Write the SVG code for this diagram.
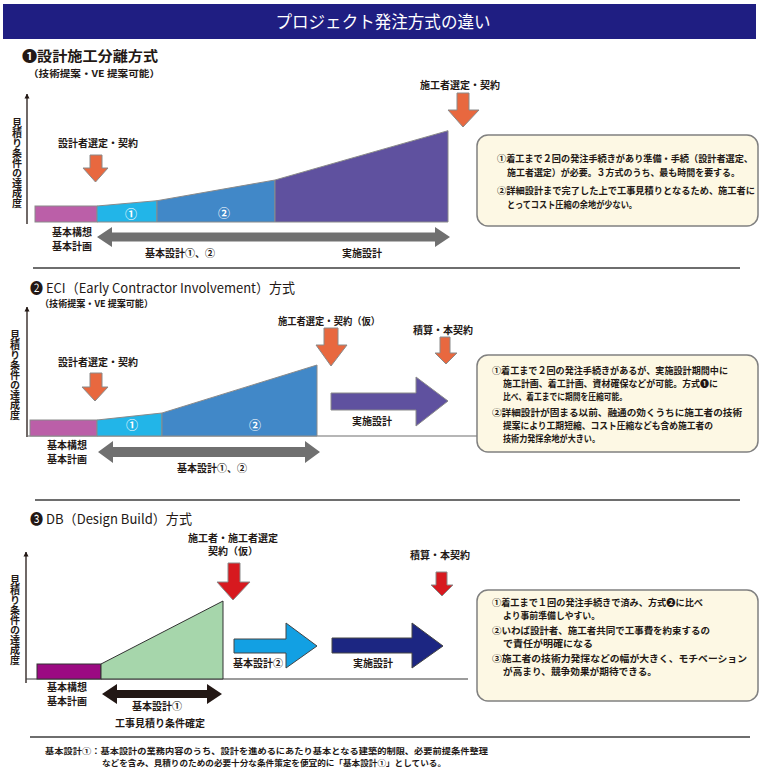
<svg xmlns="http://www.w3.org/2000/svg" width="766" height="770" viewBox="0 0 766 770">
<defs>
<style>
.t{font-family:"Noto Sans CJK JP","Noto Sans",sans-serif;fill:#231815}
.b{font-weight:bold}
.lbl{font-size:10px;font-weight:bold;text-anchor:middle}
.bt{font-size:9.5px;font-weight:bold}
.vl{font-size:10px;font-weight:bold;writing-mode:vertical-rl}
.box{fill:#fdf8e4;stroke:#808080;stroke-width:1.5}
.ora{fill:#e8683f;stroke:#8a8a8a;stroke-width:1}
.red{fill:#d7191f;stroke:#8a8a8a;stroke-width:1}
.num{font-family:"Noto Sans CJK JP",sans-serif;font-size:12px;fill:#fff;text-anchor:middle;font-weight:bold}
.ax{stroke:#231815;stroke-width:1.3;fill:none}
.sep{stroke:#6e6e6e;stroke-width:2}
</style>
<marker id="ah" viewBox="0 0 10 10" refX="9" refY="5" markerWidth="5" markerHeight="7" orient="auto" markerUnits="userSpaceOnUse">
<path d="M0,0 L10,5 L0,10 Z" fill="#231815"/>
</marker>
</defs>
<rect width="766" height="770" fill="#ffffff"/>

<g id="title">
<rect x="3" y="4" width="753" height="35" fill="#1f1e82"/>
<text class="t" x="383" y="28" font-size="17" text-anchor="middle" style="fill:#ffffff" textLength="215" lengthAdjust="spacingAndGlyphs">プロジェクト発注方式の違い</text>
</g>

<!-- Section 1 -->
<g id="sec1-head">
<text class="t b"><tspan x="22" y="61" font-size="14" textLength="136" lengthAdjust="spacingAndGlyphs">❶設計施工分離方式</tspan><tspan x="28" y="76.5" font-size="9.5" textLength="132" lengthAdjust="spacingAndGlyphs">（技術提案・VE 提案可能）</tspan></text>
</g>
<g id="sec1-axis">
<line class="ax" x1="27" y1="224" x2="27" y2="94" marker-end="url(#ah)"/>
<text class="t vl" x="17" y="118">見積り条件の達成度</text>
</g>
<g id="sec1-bars" stroke="#8a8a8a" stroke-width="1">
<rect x="35" y="206" width="62" height="16" fill="#bb5fa8"/>
<polygon points="97,206 157,200.7 157,222 97,222" fill="#22b5e8"/>
<polygon points="157,200.7 275,180 275,222 157,222" fill="#4188c8"/>
<polygon points="275,180 448,130.7 448,222 275,222" fill="#5f519f"/>
</g>
<text class="num" x="131" y="219">①</text>
<text class="num" x="224" y="218">②</text>
<g id="sec1-markers">
<path class="ora" d="M90,155 H102 V168 H108 L95.5,182 L83,168 H90 Z"/>
<path class="ora" d="M457,93 H469 V110 H479 L463,127 L448,110 H457 Z"/>
</g>
<g id="sec1-labels">
<text class="t lbl" x="98" y="147">設計者選定・契約</text>
<text class="t lbl" x="460" y="89">施工者選定・契約</text>
<text class="t lbl" font-size="8.5"><tspan x="72" y="236">基本構想</tspan><tspan x="72" y="250">基本計画</tspan></text>
<text class="t lbl" x="180" y="257" font-size="9.5">基本設計①、②</text>
<text class="t lbl" x="362" y="257" font-size="9.5">実施設計</text>
</g>
<g id="connectors">
<path d="M97,237 L112,227 V232.5 H435 V227 L450,237 L435,247 V241.5 H112 V247 Z" fill="#707070"/>
<path d="M98,452 L113,441 V447 H305 V441 L320,452 L305,463 V457 H113 V463 Z" fill="#707070"/>
<path d="M102,694 L117,684 V690 H207 V684 L222,694 L207,704 V698 H117 V704 Z" fill="#231815"/>
</g>
<g id="note1">
<rect class="box" x="477" y="135" width="281" height="91" rx="11"/>
<text class="t bt"><tspan x="497" y="162" textLength="256" lengthAdjust="spacingAndGlyphs">①着工まで２回の発注手続きがあり準備・手続（設計者選定、</tspan><tspan x="507" y="176" textLength="233" lengthAdjust="spacingAndGlyphs">施工者選定）が必要。３方式のうち、最も時間を要する。</tspan><tspan x="497" y="194" textLength="258" lengthAdjust="spacingAndGlyphs">②詳細設計まで完了した上で工事見積りとなるため、施工者に</tspan><tspan x="507" y="208" textLength="130" lengthAdjust="spacingAndGlyphs">とってコスト圧縮の余地が少ない。</tspan></text>
</g>
<line class="sep" x1="33" y1="268" x2="740" y2="268"/>

<!-- Section 2 -->
<g id="sec2-head">
<text class="t"><tspan x="30" y="293" font-size="13.5" textLength="265" lengthAdjust="spacingAndGlyphs">❷ ECI（Early Contractor Involvement）方式</tspan><tspan x="40" y="307" font-size="9.5" font-weight="bold" textLength="113" lengthAdjust="spacingAndGlyphs">（技術提案・VE 提案可能）</tspan></text>
</g>
<g id="sec2-axis">
<line class="ax" x1="27" y1="437" x2="27" y2="307" marker-end="url(#ah)"/>
<line x1="27" y1="436" x2="477" y2="436" stroke="#6e6e6e" stroke-width="1.2"/>
<text class="t vl" x="15" y="330">見積り条件の達成度</text>
</g>
<g id="sec2-bars" stroke="#8a8a8a" stroke-width="1">
<rect x="30" y="420" width="67" height="16" fill="#bb5fa8"/>
<polygon points="97,420 162,413 162,436 97,436" fill="#22b5e8"/>
<polygon points="162,413 317,365 317,436 162,436" fill="#4188c8"/>
</g>
<text class="num" x="132" y="430">①</text>
<text class="num" x="255" y="430">②</text>
<g id="sec2-markers">
<path class="ora" d="M90,373 H102 V387 H108 L95,401 L82,387 H90 Z"/>
<path class="ora" d="M324,328 H338 V345 H347 L331,366 L316,345 H324 Z"/>
<path class="ora" d="M440,337 H450 V353 H457 L446,364 L435,353 H440 Z"/>
<path d="M331,393 H416 V377 L448,401 L416,426 V410 H331 Z" fill="#5f519f" stroke="#8a8a8a" stroke-width="1"/>
</g>
<g id="sec2-labels">
<text class="t lbl" x="98" y="366">設計者選定・契約</text>
<text class="t lbl" x="329" y="325" textLength="102" lengthAdjust="spacingAndGlyphs">施工者選定・契約（仮）</text>
<text class="t lbl" x="443" y="334">積算・本契約</text>
<text class="t lbl" x="372" y="425" font-size="9.5">実施設計</text>
<text class="t lbl" font-size="8.5"><tspan x="67" y="448.5">基本構想</tspan><tspan x="67" y="462.5">基本計画</tspan></text>
<text class="t lbl" x="212" y="472" font-size="9.5">基本設計①、②</text>
</g>
<g id="note2">
<rect class="box" x="477" y="355" width="281" height="97" rx="11"/>
<text class="t bt"><tspan x="492" y="374" textLength="236" lengthAdjust="spacingAndGlyphs">①着工まで２回の発注手続きがあるが、実施設計期間中に</tspan><tspan x="503" y="387" textLength="215" lengthAdjust="spacingAndGlyphs">施工計画、着工計画、資材確保などが可能。方式❶に</tspan><tspan x="503" y="400" textLength="124" lengthAdjust="spacingAndGlyphs">比べ、着工までに期間を圧縮可能。</tspan><tspan x="492" y="416" textLength="250" lengthAdjust="spacingAndGlyphs">②詳細設計が固まる以前、融通の効くうちに施工者の技術</tspan><tspan x="503" y="429" textLength="210" lengthAdjust="spacingAndGlyphs">提案により工期短縮、コスト圧縮なども含め施工者の</tspan><tspan x="503" y="442" textLength="97" lengthAdjust="spacingAndGlyphs">技術力発揮余地が大きい。</tspan></text>
</g>
<line class="sep" x1="35" y1="500" x2="740" y2="500"/>

<!-- Section 3 -->
<g id="sec3-head">
<text class="t" x="30" y="524" font-size="13.5" textLength="162" lengthAdjust="spacingAndGlyphs">❸ DB（Design Build）方式</text>
</g>
<g id="sec3-axis">
<line class="ax" x1="26" y1="683" x2="26" y2="552" marker-end="url(#ah)"/>
<line x1="26" y1="679" x2="468" y2="679" stroke="#3a3a3a" stroke-width="1.2"/>
<text class="t vl" x="15" y="575">見積り条件の達成度</text>
</g>
<g id="sec3-bars">
<rect x="37" y="664" width="64" height="15" fill="#9b0a82" stroke="#333" stroke-width="1"/>
<polygon points="101,664 223,601 223,679 101,679" fill="#a6d6ab" stroke="#333" stroke-width="1"/>
</g>
<g id="sec3-markers">
<path class="red" d="M228,563 H240 V582 H250 L233,600 L217,582 H228 Z"/>
<path class="red" d="M436,572 H447 V585 H453 L442,596 L431,585 H436 Z"/>
<path d="M234,639 H286 V623 L317,646 L286,668 V653 H234 Z" fill="#12a0e3" stroke="#444" stroke-width="1"/>
<path d="M332,638 H412 V623 L443,646 L412,668 V653 H332 Z" fill="#1c2682" stroke="#444" stroke-width="1"/>
</g>
<g id="sec3-labels">
<text class="t lbl" font-size="9.5"><tspan x="233" y="541.5">施工者・施工者選定</tspan><tspan x="233" y="555.3">契約（仮）</tspan></text>
<text class="t lbl" x="440" y="559">積算・本契約</text>
<text class="t lbl" x="258" y="667" font-size="9.5">基本設計②</text>
<text class="t lbl" x="373" y="667" font-size="9.5">実施設計</text>
<text class="t lbl" font-size="8.5"><tspan x="67" y="690.5">基本構想</tspan><tspan x="67" y="704.5">基本計画</tspan></text>
<text class="t lbl" font-size="9.5"><tspan x="157" y="710">基本設計①</tspan><tspan x="160" y="727">工事見積り条件確定</tspan></text>
</g>
<g id="note3">
<rect class="box" x="477" y="590" width="281" height="111" rx="11"/>
<text class="t bt"><tspan x="492" y="606" textLength="211" lengthAdjust="spacingAndGlyphs">①着工まで１回の発注手続きで済み、方式❷に比べ</tspan><tspan x="503" y="619" textLength="97" lengthAdjust="spacingAndGlyphs">より事前準備しやすい。</tspan><tspan x="492" y="634" textLength="218" lengthAdjust="spacingAndGlyphs">②いわば設計者、施工者共同で工事費を約束するの</tspan><tspan x="503" y="647" textLength="90" lengthAdjust="spacingAndGlyphs">で責任が明確になる</tspan><tspan x="492" y="662" textLength="255" lengthAdjust="spacingAndGlyphs">③施工者の技術力発揮などの幅が大きく、モチベーション</tspan><tspan x="503" y="675" textLength="154" lengthAdjust="spacingAndGlyphs">が高まり、競争効果が期待できる。</tspan></text>
</g>
<line class="sep" x1="30" y1="737" x2="750" y2="737"/>

<g id="footnote">
<text class="t b" font-size="8.5"><tspan x="45" y="754" textLength="443" lengthAdjust="spacingAndGlyphs">基本設計①：基本設計の業務内容のうち、設計を進めるにあたり基本となる建築的制限、必要前提条件整理</tspan><tspan x="102" y="766.4" textLength="344" lengthAdjust="spacingAndGlyphs">などを含み、見積りのための必要十分な条件策定を便宜的に「基本設計①」としている。</tspan></text>
</g>
</svg>
